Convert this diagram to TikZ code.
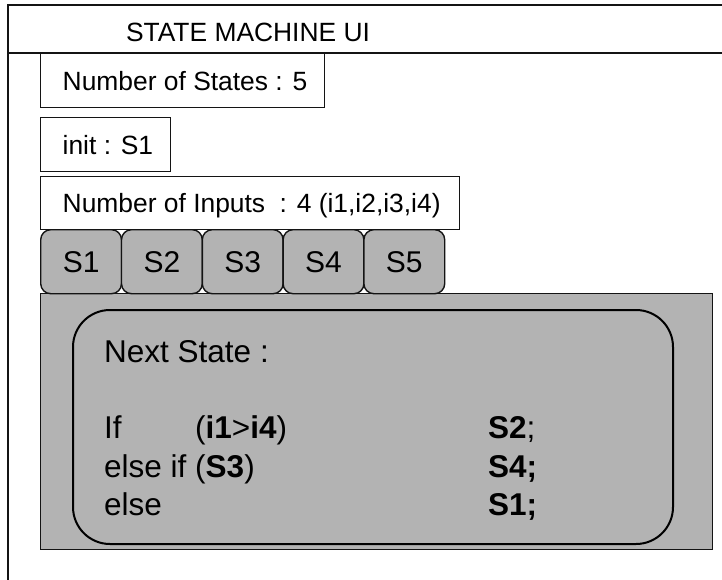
\documentclass[tikz,border=0pt]{standalone}
\usepackage{fontspec}
\setmainfont{Liberation Sans}
\definecolor{panelgray}{RGB}{179,179,179}
\definecolor{edge}{RGB}{20,20,20}
\tikzset{
  frameline/.style={line width=2pt, draw=edge},
  infobox/.style={draw=edge, line width=1.4pt, fill=white, anchor=north west,
    inner xsep=22pt, inner ysep=0pt,
    font=\fontsize{26.4}{30}\selectfont, text height=19pt, text depth=0pt},
  tabbox/.style={draw=edge, line width=1.4pt, fill=panelgray, rounded corners=10pt,
    anchor=north west, minimum width=80.8pt, minimum height=64pt, inner sep=0pt,
    font=\fontsize{30}{36}\selectfont, text height=21.5pt, text depth=0pt},
  codetext/.style={anchor=base west, inner sep=0pt, font=\fontsize{31.5}{37}\selectfont},
}
\begin{document}
\begin{tikzpicture}[x=1pt,y=-1pt]
\useasboundingbox (0,0) rectangle (722,580);
% outer frame
\draw[frameline] (722,5) -- (8,5) -- (8,580);
\draw[frameline] (8,53) -- (722,53);
\node[anchor=center, inner sep=0pt, font=\fontsize{26.4}{30}\selectfont, text height=19pt, text depth=0pt] (title) at (248,32) {STATE MACHINE UI};
% info boxes
\node[infobox, minimum height=54pt] (nstates) at (40,53) {\makebox[240pt][l]{Number of States : 5}};
\node[infobox, minimum height=54pt] (init) at (40,117) {\makebox[86pt][l]{init : S1}};
\node[infobox, minimum height=53pt] (ninputs) at (40,176) {\makebox[375pt][l]{Number of Inputs\hspace{0.55em}: 4 (i1,i2,i3,i4)}};
% panel
\node[draw=edge, line width=1.4pt, fill=panelgray, anchor=north west, minimum width=672pt, minimum height=256pt, inner sep=0pt] (panel) at (40,293) {};
% tabs
\node[tabbox] (t1) at (40,229) {S1};
\node[tabbox] (t2) at (120.8,229) {S2};
\node[tabbox] (t3) at (201.6,229) {S3};
\node[tabbox] (t4) at (282.4,229) {S4};
\node[tabbox] (t5) at (363.2,229) {S5};
% inner rounded box
\node[draw=black, line width=2pt, fill=panelgray, rounded corners=37pt, anchor=north west, minimum width=600pt, minimum height=234pt, inner sep=0pt] (logic) at (72,309) {};
\node[codetext] (nextlbl) at (104,362) {Next State :};
\node[codetext] (ifkw) at (104,438) {If};
\node[codetext] (ifcond) at (195,438) {(\textbf{i1}>\textbf{i4})};
\node[codetext] (elseif) at (104,477) {else if (\textbf{S3})};
\node[codetext] (elsekw) at (104,515) {else};
\node[codetext] (res1) at (488,438) {\textbf{S2};};
\node[codetext] (res2) at (488,477) {\textbf{S4;}};
\node[codetext] (res3) at (488,515) {\textbf{S1;}};
\end{tikzpicture}
\end{document}
